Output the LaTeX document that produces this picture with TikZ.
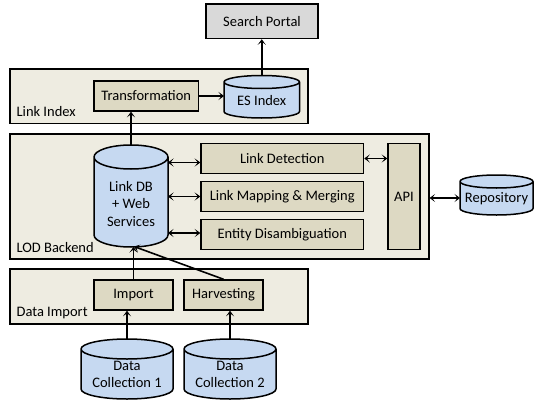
\documentclass[tikz,border=0pt]{standalone}
\usepackage{fontspec}
\setmainfont{Carlito}
\usetikzlibrary{arrows.meta,calc}

\definecolor{panel}{HTML}{EEECE1}
\definecolor{task}{HTML}{DDD9C3}
\definecolor{store}{HTML}{C6D9F1}
\definecolor{portal}{HTML}{D9D9D9}

% Cylinder outline drawn from the anchors of an empty node (#1) with cap radius #2
\newcommand\cylshape[2]{%
  \filldraw[cylline] let \p1=(#1.north west), \p2=(#1.south east), \n1={(\x2-\x1)/2} in
    (\x1,\y1-#2) -- (\x1,\y2+#2)
      arc[start angle=180,end angle=360,x radius=\n1,y radius=#2]
      -- (\x2,\y1-#2)
      arc[start angle=0,end angle=180,x radius=\n1,y radius=#2] -- cycle
    (\x1,\y1-#2) arc[start angle=180,end angle=360,x radius=\n1,y radius=#2];%
}

\tikzset{
  txt/.style={font=\fontsize{14.5}{17.5}\selectfont},
  panelbox/.style={draw=black, line width=1.2pt, fill=panel, inner sep=0pt},
  taskbox/.style={txt, draw=black, line width=1.5pt, fill=task, inner sep=0pt},
  portalbox/.style={txt, draw=black, line width=1.5pt, fill=portal, inner sep=0pt},
  cylnode/.style={draw=none, inner sep=0pt, outer sep=0pt},
  cylline/.style={draw=black, line width=1.5pt, fill=store},
  cyltext/.style={txt, align=center, inner sep=0pt},
  tag/.style={txt, anchor=base west, inner sep=0pt},
  tip/.style={Stealth[length=5.5pt,width=8pt,inset=3pt]},
  arr/.style={line width=1.6pt, -{Stealth[length=5.5pt,width=8pt,inset=3pt]}},
  both/.style={line width=1.6pt, {Stealth[length=5.5pt,width=8pt,inset=3pt]}-{Stealth[length=5.5pt,width=8pt,inset=3pt]}},
}

\begin{document}
\begin{tikzpicture}[x=1pt,y=1pt]
\useasboundingbox (0,0) rectangle (534,-401);

% containers
\node[panelbox, minimum width=298, minimum height=54.5] (linkidx) at (159,-96.25) {};
\node[tag] (linkidx-tag) at ($(linkidx.south west)+(7,8)$) {Link Index};
\node[panelbox, minimum width=419, minimum height=125] (lod) at (219.5,-196.5) {};
\node[tag] (lod-tag) at ($(lod.south west)+(7,7)$) {LOD Backend};
\node[panelbox, minimum width=298, minimum height=55] (dimport) at (159,-296.5) {};
\node[tag] (dimport-tag) at ($(dimport.south west)+(7,8)$) {Data Import};

% top level
\node[portalbox, minimum width=112, minimum height=34.5] (portal) at (262,-21.25) {Search Portal};

% link index
\node[taskbox, minimum width=104.5, minimum height=30] (trans) at (146.25,-96) {Transformation};
\node[cylnode, minimum width=75.5, minimum height=42.5] (es) at (261.75,-96.75) {};
\cylshape{es}{6.5pt}
\node[cyltext] (es-text) at ($(es)+(0,-3.5)$) {ES Index};

% LOD backend
\node[cylnode, minimum width=74, minimum height=102] (linkdb) at (131,-196) {};
\cylshape{linkdb}{12pt}
\node[cyltext] (linkdb-text) at ($(linkdb)+(0,-8)$) {Link DB\\+ Web\\Services};
\node[taskbox, minimum width=162.5, minimum height=30] (det) at (282.25,-158.5) {Link Detection};
\node[taskbox, minimum width=162.5, minimum height=30] (map) at (282.25,-196.5) {Link Mapping \& Merging};
\node[taskbox, minimum width=162.5, minimum height=30] (ent) at (282.25,-234.5) {Entity Disambiguation};
\node[taskbox, minimum width=32, minimum height=106] (api) at (404,-196.5) {API};

% external repository
\node[cylnode, minimum width=73, minimum height=40] (repo) at (496.5,-195) {};
\cylshape{repo}{6.5pt}
\node[cyltext] (repo-text) at ($(repo)+(0,-4)$) {Repository};

% data import
\node[taskbox, minimum width=79, minimum height=30] (imp) at (133.5,-295) {Import};
\node[taskbox, minimum width=79, minimum height=30] (harv) at (223.5,-295) {Harvesting};

% data collections
\node[cylnode, minimum width=92, minimum height=60] (dc1) at (127,-369) {};
\cylshape{dc1}{10pt}
\node[cyltext] (dc1-text) at ($(dc1)+(0,-5.5)$) {Data\\Collection 1};
\node[cylnode, minimum width=92, minimum height=60] (dc2) at (230,-369) {};
\cylshape{dc2}{10pt}
\node[cyltext] (dc2-text) at ($(dc2)+(0,-5.5)$) {Data\\Collection 2};

% connectors
\draw[arr] (es.north) -- (es.north |- portal.south);
\draw[arr] (trans.east) -- (trans.east -| es.west);
\draw[arr] (linkdb.north) -- (linkdb.north |- trans.south);
\draw[both] ($(linkdb.east |- det.west)+(0,-4)$) -- ($(det.west)+(0,-4)$);
\draw[both] (linkdb.east |- map.west) -- (map.west);
\draw[both] ($(linkdb.east |- ent.west)+(0,1.5)$) -- ($(ent.west)+(0,1.5)$);
\draw[both] (det.east) -- (det.east -| api.west);
\draw[both] ($(repo.west -| lod.east)+(0,-3)$) -- ($(repo.west)+(0,-3)$);
\draw[arr] (imp.north) -- (imp.north |- linkdb.south);
\draw[arr] (harv.north) -- ($(linkdb.south)+(3,0.5)$);
\draw[arr] (dc1.north) -- (dc1.north |- imp.south);
\draw[arr] (dc2.north) -- (dc2.north |- harv.south);
\end{tikzpicture}
\end{document}
